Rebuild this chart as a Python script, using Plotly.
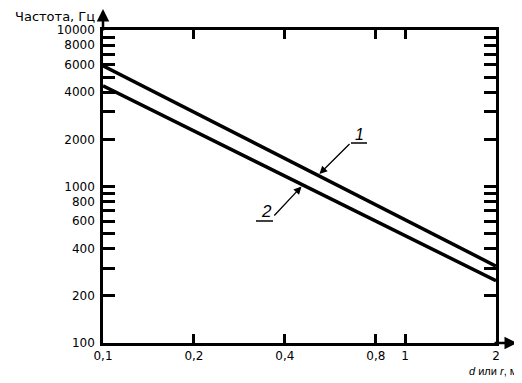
import math
import plotly.graph_objects as go

# ---- data ----
distance = [0.1, 2.0]                 # d или r, м
freq_line1 = [5900, 310]              # curve 1, Гц
freq_line2 = [4400, 250]              # curve 2, Гц

x_tickvals = [0.1, 0.2, 0.4, 0.8, 1, 2]
x_ticktext = ["0,1", "0,2", "0,4", "0,8", "1", "2"]
y_tickvals = [100, 200, 400, 600, 800, 1000, 2000, 4000, 6000, 8000, 10000]
y_ticktext = ["100", "200", "400", "600", "800", "1000", "2000", "4000", "6000", "8000", "10000"]
y_minor = [300, 500, 700, 900, 3000, 5000, 7000, 9000]

FONT = "DejaVu Sans, sans-serif"
FONT2 = "Liberation Sans, Arial, sans-serif"

# page offset (default body margin) and target plot-area geometry in page pixels
OFF = 8
PAGE_W, PAGE_H = 522, 383
L, R, T, B = 103, 26, 30, 40          # page-pixel edges of the plot area
W, H = PAGE_W - OFF, PAGE_H - OFF
PW, PH = PAGE_W - L - R, PAGE_H - T - B


def px_x(p):
    return (p - L) / PW


def px_y(p):
    return (PAGE_H - B - p) / PH


def interp(xs, ys, x):
    lx0, lx1 = math.log10(xs[0]), math.log10(xs[1])
    ly0, ly1 = math.log10(ys[0]), math.log10(ys[1])
    t = (math.log10(x) - lx0) / (lx1 - lx0)
    return ly0 + t * (ly1 - ly0)


fig = go.Figure()
fig.add_trace(go.Scatter(x=distance, y=freq_line1, mode="lines",
                         line=dict(color="black", width=3.5), showlegend=False))
fig.add_trace(go.Scatter(x=distance, y=freq_line2, mode="lines",
                         line=dict(color="black", width=3.5), showlegend=False))

axis_common = dict(
    showgrid=False, zeroline=False, showline=True, linecolor="black", linewidth=2.5,
    mirror="allticks", ticks="inside", tickcolor="black", tickwidth=2.5,
    tickfont=dict(family=FONT, size=12, color="black"),
)

fig.update_xaxes(type="log", range=[-1, math.log10(2)], tickvals=x_tickvals,
                 ticktext=x_ticktext, ticklen=9, ticklabelstandoff=0, **axis_common)
fig.update_yaxes(type="log", range=[2, 4], tickvals=y_tickvals, ticktext=y_ticktext,
                 ticklen=12, ticklabelstandoff=3,
                 minor=dict(tickvals=y_minor, ticks="inside", ticklen=12,
                            tickwidth=2.5, tickcolor="black"),
                 **axis_common)

shapes = []
# longer ticks at 1000 on both sides
for x0, x1 in [(0, 17 / PW), (1 - 17 / PW, 1)]:
    shapes.append(dict(type="line", xref="paper", yref="y", x0=x0, x1=x1,
                       y0=3, y1=3, line=dict(color="black", width=2.5)))
# leader underlines
shapes.append(dict(type="line", xref="paper", yref="paper", x0=px_x(351), x1=px_x(367),
                   y0=px_y(143), y1=px_y(143), line=dict(color="black", width=1.5)))
shapes.append(dict(type="line", xref="paper", yref="paper", x0=px_x(256), x1=px_x(273),
                   y0=px_y(221), y1=px_y(221), line=dict(color="black", width=1.5)))

annotations = []
# axis arrows
annotations.append(dict(xref="paper", yref="paper", x=0, y=px_y(9), ax=0, ay=23,
                        text="", showarrow=True, arrowhead=2, arrowsize=1,
                        arrowwidth=2.5, arrowcolor="black"))
annotations.append(dict(xref="paper", yref="paper", x=px_x(517), y=0, ax=-24, ay=0,
                        text="", showarrow=True, arrowhead=2, arrowsize=1,
                        arrowwidth=2.5, arrowcolor="black"))
# axis titles
annotations.append(dict(xref="paper", yref="paper", x=px_x(97), y=px_y(16),
                        xanchor="right", yanchor="middle", showarrow=False,
                        text="Частота, Гц", font=dict(family=FONT, size=13, color="black")))
annotations.append(dict(xref="paper", yref="paper", x=px_x(519), y=px_y(371),
                        xanchor="right", yanchor="middle", showarrow=False,
                        text="<i>d</i> или <i>r</i>, м",
                        font=dict(family=FONT2, size=11, color="black")))
# curve leaders
tip1_x = 0.515
tip2_x = 0.459
annotations.append(dict(xref="x", yref="y", x=math.log10(tip1_x),
                        y=interp(distance, freq_line1, tip1_x), ax=33, ay=-33,
                        text="", showarrow=True, arrowhead=2, arrowsize=1.2,
                        arrowwidth=1.3, arrowcolor="black", standoff=2))
annotations.append(dict(xref="x", yref="y", x=math.log10(tip2_x),
                        y=interp(distance, freq_line2, tip2_x), ax=-30, ay=32,
                        text="", showarrow=True, arrowhead=2, arrowsize=1.2,
                        arrowwidth=1.3, arrowcolor="black", standoff=2))
annotations.append(dict(xref="paper", yref="paper", x=px_x(359), y=px_y(134),
                        xanchor="center", yanchor="middle", showarrow=False,
                        text="<i>1</i>", font=dict(family=FONT2, size=16, color="black")))
annotations.append(dict(xref="paper", yref="paper", x=px_x(266), y=px_y(211),
                        xanchor="center", yanchor="middle", showarrow=False,
                        text="<i>2</i>", font=dict(family=FONT2, size=17, color="black")))

fig.update_layout(
    width=W, height=H,
    margin=dict(l=L - OFF, r=R, t=T - OFF, b=B, autoexpand=False),
    paper_bgcolor="white", plot_bgcolor="white",
    shapes=shapes, annotations=annotations, showlegend=False,
)

fig.write_html("out.html")
